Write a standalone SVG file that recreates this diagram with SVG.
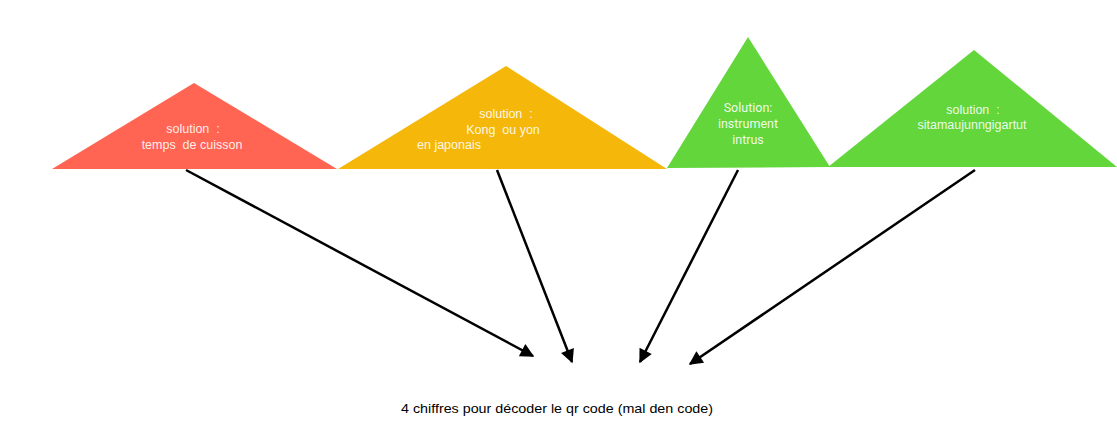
<svg xmlns="http://www.w3.org/2000/svg" width="1117" height="438" viewBox="0 0 1117 438">
<style>
.lbl{font-family:"Liberation Sans",Arial,sans-serif;font-size:12.5px;fill:#ffffff;fill-opacity:0.9}
.lbl3{font-family:Roboto,"Liberation Sans",sans-serif;font-size:12.5px;fill:#ffffff;fill-opacity:0.9}
.cap{font-family:"Liberation Sans",Arial,sans-serif;font-size:13px;fill:#000}
.conn{stroke:#000;stroke-width:2.5;fill:none;marker-end:url(#ah)}
</style>
<defs>
<marker id="ah" viewBox="0 0 10 10" refX="9" refY="5" markerWidth="6.5" markerHeight="5.5" orient="auto" markerUnits="strokeWidth">
<path d="M0,0 L10,5 L0,10 z" fill="#000"/>
</marker>
</defs>
<rect width="1117" height="438" fill="#fff"/>
<g id="n1">
<polygon points="194,83 337,169 52,169" fill="#FF6552"/>
<text class="lbl" x="193" y="133" text-anchor="middle" xml:space="preserve">solution  :</text>
<text class="lbl" x="192" y="149" text-anchor="middle" xml:space="preserve">temps  de cuisson</text>
</g>
<g id="n2">
<polygon points="506,66 667,169 338,169" fill="#F5B80A"/>
<text class="lbl" x="506" y="118" text-anchor="middle" xml:space="preserve">solution  :</text>
<text class="lbl" x="503" y="134" text-anchor="middle" xml:space="preserve">Kong  ou yon</text>
<text class="lbl" x="417" y="149">en japonais</text>
</g>
<g id="n3">
<polygon points="748,37 830,167 667,168" fill="#63D63B"/>
<text class="lbl3" x="748" y="112" text-anchor="middle">Solution:</text>
<text class="lbl3" x="748" y="128" text-anchor="middle">instrument</text>
<text class="lbl3" x="748" y="144" text-anchor="middle">intrus</text>
</g>
<g id="n4">
<polygon points="974,50 1117,167 828,167" fill="#63D63B"/>
<text class="lbl" x="973" y="114" text-anchor="middle" xml:space="preserve">solution  :</text>
<text class="lbl" x="972" y="129" text-anchor="middle">sitamaujunngigartut</text>
</g>
<g id="connectors">
<line class="conn" x1="186" y1="170" x2="533" y2="356"/>
<line class="conn" x1="497" y1="170" x2="572" y2="362"/>
<line class="conn" x1="738" y1="170" x2="640" y2="362"/>
<line class="conn" x1="975" y1="170" x2="690" y2="364"/>
</g>
<g id="caption">
<text class="cap" x="401" y="413" textLength="312" lengthAdjust="spacingAndGlyphs">4 chiffres pour décoder le qr code (mal den code)</text>
</g>
</svg>
